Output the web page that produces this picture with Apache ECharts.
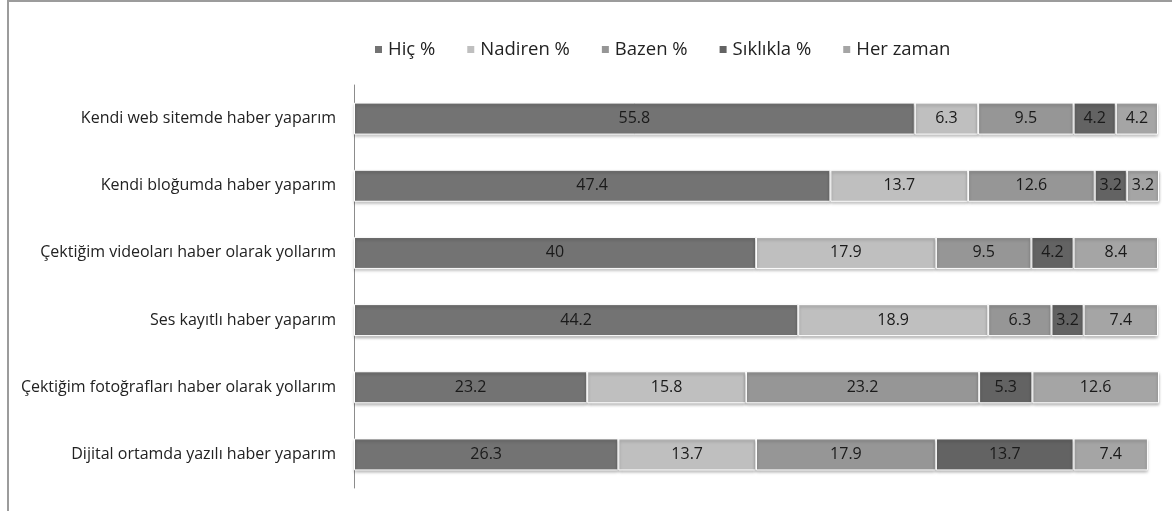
<!DOCTYPE html>
<html lang="tr">
<head>
    <meta charset="UTF-8">
    <title>Haber yapma biçimleri</title>
    <script src="https://cdn.jsdelivr.net/npm/echarts@6/dist/echarts.min.js"></script>
    <style>
        body { margin: 0; background: #fff; }
    </style>
</head>
<body>
    <div id="main" style="width: 1172px; height: 511px;"></div>

    <script>
        // Categories (top to bottom)
        var categories = [
            'Kendi web sitemde haber yaparım',
            'Kendi bloğumda haber yaparım',
            'Çektiğim videoları haber olarak yollarım',
            'Ses kayıtlı haber yaparım',
            'Çektiğim fotoğrafları haber olarak yollarım',
            'Dijital ortamda yazılı haber yaparım'
        ];

        var seriesNames = ['Hiç %', 'Nadiren %', 'Bazen %', 'Sıklıkla %', 'Her zaman'];
        var seriesColors = ['#737373', '#bfbfbf', '#969696', '#636363', '#a5a5a5'];

        var hic = [55.8, 47.4, 40, 44.2, 23.2, 26.3];
        var nadiren = [6.3, 13.7, 17.9, 18.9, 15.8, 13.7];
        var bazen = [9.5, 12.6, 9.5, 6.3, 23.2, 17.9];
        var siklikla = [4.2, 3.2, 4.2, 3.2, 5.3, 13.7];
        var herZaman = [4.2, 3.2, 8.4, 7.4, 12.6, 7.4];

        var seriesData = [hic, nadiren, bazen, siklikla, herZaman];

        var chart = echarts.init(document.getElementById('main'));

        var font = '"Open Sans", sans-serif';

        var option = {
            animation: false,
            textStyle: { fontFamily: font },
            legend: {
                top: 35,
                left: 368,
                itemWidth: 9,
                itemHeight: 9,
                itemGap: 30,
                icon: 'rect',
                textStyle: { fontSize: 18.5, color: '#222', fontFamily: font },
                data: seriesNames
            },
            graphic: [
                { type: 'line', shape: { x1: 8, y1: 0, x2: 8, y2: 511 }, style: { stroke: '#9c9c9c', lineWidth: 2 } },
                { type: 'line', shape: { x1: 7, y1: 1, x2: 1172, y2: 1 }, style: { stroke: '#9c9c9c', lineWidth: 2 } }
            ],
            grid: {
                left: 354,
                right: 13,
                top: 85,
                bottom: 23,
                containLabel: false
            },
            xAxis: {
                type: 'value',
                min: 0,
                max: 80.1,
                show: false
            },
            yAxis: {
                type: 'category',
                inverse: true,
                data: categories,
                axisLine: { lineStyle: { color: '#8c8c8c', width: 1 } },
                axisTick: { show: false },
                axisLabel: { fontSize: 16, color: '#222', margin: 18, fontFamily: font }
            },
            series: seriesNames.map(function (name, i) {
                return {
                    name: name,
                    type: 'bar',
                    stack: 'total',
                    barWidth: 32,
                    data: seriesData[i],
                    itemStyle: {
                        color: seriesColors[i],
                        borderColor: '#ffffff',
                        borderWidth: 1,
                        shadowColor: 'rgba(0,0,0,0.3)',
                        shadowBlur: 3,
                        shadowOffsetY: 2
                    },
                    label: {
                        show: true,
                        position: 'inside',
                        color: '#1a1a1a',
                        fontSize: 16,
                        fontFamily: font
                    }
                };
            })
        };

        chart.setOption(option);
    </script>
</body>
</html>
